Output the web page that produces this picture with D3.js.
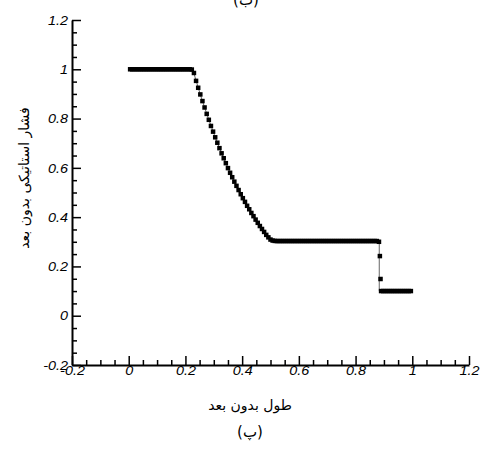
<!DOCTYPE html>
<html><head><meta charset="utf-8">
<script src="https://cdn.jsdelivr.net/npm/d3@7"></script>
<style>body{margin:0;background:#fff}svg{display:block}</style>
</head><body>
<script>
// ---- data ----
const xTicks = [-0.2, 0, 0.2, 0.4, 0.6, 0.8, 1, 1.2];
const yTicks = [-0.2, 0, 0.2, 0.4, 0.6, 0.8, 1, 1.2];
const xTickLabels = ["-0.2","0","0.2","0.4","0.6","0.8","1","1.2"];
const yTickLabels = ["-0.2","0","0.2","0.4","0.6","0.8","1","1.2"];
const minorStep = 0.05;

// exact solution (thin line)
const exactX = [0, 0.2255, 0.2532, 0.2809, 0.3086, 0.3363, 0.364, 0.3917, 0.4194, 0.4471, 0.4748, 0.5025, 0.8835, 0.8835, 1.0];
const exactP = [1, 1, 0.895, 0.800, 0.713, 0.635, 0.564, 0.500, 0.443, 0.391, 0.344, 0.3025, 0.3025, 0.1, 0.1];

// numerical solution (square symbols)
const numX = [
 0.005,0.0125,0.02,0.0275,0.035,0.0425,0.05,0.0575,0.065,0.0725,0.08,0.0875,0.095,0.1025,0.11,0.1175,0.125,0.1325,0.14,0.1475,0.155,0.1625,0.17,0.1775,0.185,0.1925,0.2,0.2075,0.215,0.2225,
 0.23,0.2375,0.245,0.2525,0.26,0.2675,0.275,0.2825,0.29,0.2975,0.305,0.3125,0.32,0.3275,0.335,0.3425,0.35,0.3575,0.365,0.3725,0.38,0.3875,0.395,0.4025,0.41,0.4175,0.425,0.4325,0.44,0.4475,0.455,0.4625,0.47,0.4775,0.485,0.4925,0.5,0.5075,0.515,
 0.5225,0.53,0.5375,0.545,0.5525,0.56,0.5675,0.575,0.5825,0.59,0.5975,0.605,0.6125,0.62,0.6275,0.635,0.6425,0.65,0.6575,0.665,0.6725,0.68,0.6875,0.695,0.7025,0.71,0.7175,0.725,0.7325,0.74,0.7475,0.755,0.7625,0.77,0.7775,0.785,0.7925,0.8,0.8075,0.815,0.8225,0.83,0.8375,0.845,0.8525,0.86,0.8675,0.875,0.8825,
 0.8857,0.888,
 0.89,0.8975,0.905,0.9125,0.92,0.9275,0.935,0.9425,0.95,0.9575,0.965,0.9725,0.98,0.9875,0.995
];
const numP = [
 1,1,1,1,1,1,1,1,1,1,1,1,1,1,1,1,1,1,1,1,1,1,1,1,1,1,1,1,1,0.999,
 0.985,0.953,0.925,0.898,0.871,0.845,0.819,0.795,0.770,0.747,0.724,0.702,0.680,0.659,0.639,0.619,0.599,0.580,0.562,0.544,0.527,0.510,0.493,0.477,0.462,0.446,0.432,0.417,0.404,0.390,0.377,0.364,0.352,0.340,0.328,0.318,0.309,0.305,0.3035,
 0.303,0.303,0.303,0.303,0.303,0.303,0.303,0.303,0.303,0.303,0.303,0.303,0.303,0.303,0.303,0.303,0.303,0.303,0.303,0.303,0.303,0.303,0.303,0.303,0.303,0.303,0.303,0.303,0.303,0.303,0.303,0.303,0.303,0.303,0.303,0.303,0.303,0.303,0.303,0.303,0.303,0.303,0.303,0.303,0.303,0.303,0.303,0.303,0.300,
 0.242,0.149,
 0.1,0.1,0.1,0.1,0.1,0.1,0.1,0.1,0.1,0.1,0.1,0.1,0.1,0.1,0.1
];

const xTitle = "طول بدون بعد";
const yTitle = "فشار استاتیکی بدون بعد";
const bottomCaption = "(پ)";
const topCaption = "(ب)";

// ---- drawing ----
const W = 486, H = 449;
const svg = d3.select("body").append("svg").attr("width", W).attr("height", H);
const x = d3.scaleLinear().domain([-0.2, 1.2]).range([72, 469]);
const y = d3.scaleLinear().domain([-0.2, 1.2]).range([365, 20]);

const minor = d3.range(-0.2, 1.2001, minorStep).map(v => +v.toFixed(3)).filter(v => !xTicks.some(t => Math.abs(t - v) < 1e-6));

// minor ticks
svg.append("g").attr("transform", `translate(0,${y(-0.2)})`)
  .call(d3.axisBottom(x).tickValues(minor).tickSize(-5).tickSizeOuter(0).tickFormat(""))
  .call(g => g.select(".domain").remove())
  .call(g => g.selectAll("line").attr("stroke", "#000").attr("stroke-width", 1.5));
svg.append("g").attr("transform", `translate(${x(-0.2)},0)`)
  .call(d3.axisLeft(y).tickValues(minor).tickSize(-5).tickSizeOuter(0).tickFormat(""))
  .call(g => g.select(".domain").remove())
  .call(g => g.selectAll("line").attr("stroke", "#000").attr("stroke-width", 1.5));

// major ticks + labels
const xa = svg.append("g").attr("transform", `translate(0,${y(-0.2)})`)
  .call(d3.axisBottom(x).tickValues(xTicks).tickSize(-9).tickSizeOuter(0).tickPadding(3)
    .tickFormat((d, i) => xTickLabels[i]));
const ya = svg.append("g").attr("transform", `translate(${x(-0.2)},0)`)
  .call(d3.axisLeft(y).tickValues(yTicks).tickSize(-9).tickSizeOuter(0).tickPadding(4)
    .tickFormat((d, i) => yTickLabels[i]));
[xa, ya].forEach(g => {
  g.select(".domain").attr("stroke", "#000").attr("stroke-width", 2);
  g.selectAll(".tick line").attr("stroke", "#000").attr("stroke-width", 1.5);
  g.selectAll(".tick text").attr("font-family", "Liberation Sans, Arial, sans-serif")
    .attr("font-style", "italic").attr("font-size", 12).attr("fill", "#000");
});
xa.selectAll(".tick text").attr("dy", "0.71em").attr("y", 1)
  .attr("transform", "scale(1.2,1)");
ya.selectAll(".tick text").attr("x", 0).attr("dy", "0.35em")
  .attr("transform", "translate(-4,0) scale(1.2,1)");

// exact line
const pts = exactX.map((v, i) => [v, exactP[i]]);
svg.append("path").datum(pts)
  .attr("d", d3.line().x(d => x(d[0])).y(d => y(d[1])))
  .attr("fill", "none").attr("stroke", "#666").attr("stroke-width", 1);

// numerical squares
const s = 4.5;
svg.append("g").selectAll("rect").data(numX.map((v, i) => [v, numP[i]]))
  .join("rect")
  .attr("x", d => x(d[0]) - s / 2).attr("y", d => y(d[1]) - s / 2)
  .attr("width", s).attr("height", s).attr("fill", "#000");

// titles
const fa = "DejaVu Sans, Noto Sans, sans-serif";
svg.append("text").attr("x", 250).attr("y", 410).attr("text-anchor", "middle")
  .attr("font-family", fa).attr("font-size", 14).attr("direction", "rtl").text(xTitle);
svg.append("text").attr("x", 250).attr("y", 437).attr("text-anchor", "middle")
  .attr("font-family", fa).attr("font-size", 15).text(bottomCaption);
svg.append("text").attr("transform", "translate(29,178) rotate(-90)").attr("text-anchor", "middle")
  .attr("font-family", fa).attr("font-size", 14).attr("direction", "rtl").text(yTitle);
svg.append("text").attr("x", 246).attr("y", 5).attr("text-anchor", "middle")
  .attr("font-family", fa).attr("font-size", 15).text(topCaption);
</script>
</body></html>
